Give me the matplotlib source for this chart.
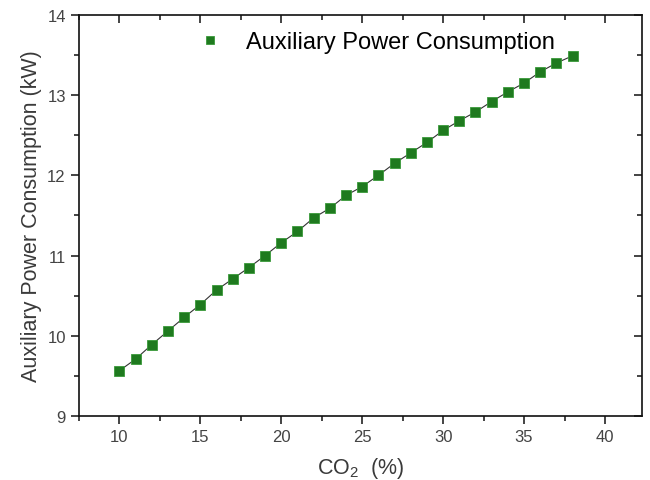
import matplotlib
matplotlib.use("Agg")
import matplotlib.pyplot as plt
from matplotlib.ticker import MultipleLocator

plt.rcParams['font.family'] = ['Liberation Sans', 'DejaVu Sans']
plt.rcParams['mathtext.fontset'] = 'custom'
plt.rcParams['mathtext.rm'] = 'Liberation Sans'

co2 = [10, 11, 12, 13, 14, 15, 16, 17, 18, 19, 20, 21, 22, 23, 24, 25, 26, 27, 28, 29,
       30, 31, 32, 33, 34, 35, 36, 37, 38]
power = [9.565, 9.71, 9.89, 10.06, 10.23, 10.39, 10.57, 10.71, 10.85, 11.00, 11.16, 11.30,
         11.47, 11.59, 11.75, 11.86, 12.00, 12.15, 12.28, 12.41, 12.56, 12.68, 12.79, 12.92,
         13.04, 13.15, 13.29, 13.40, 13.49]
series_label = "Auxiliary Power Consumption"

fig = plt.figure(figsize=(6.5, 4.81), dpi=100)
ax = fig.add_axes([0.1215, 0.133, 0.8665, 0.834])

ax.plot(co2, power, color='#333333', lw=0.8, marker='s', markersize=6.8,
        markerfacecolor='#1f7a1f', markeredgecolor='#3a9a3a', markeredgewidth=0.6,
        label=series_label)

ax.set_xlim(7.5, 42.3)
ax.set_ylim(9, 14)
ax.xaxis.set_major_locator(MultipleLocator(5))
ax.xaxis.set_minor_locator(MultipleLocator(2.5))
ax.yaxis.set_major_locator(MultipleLocator(1))
ax.yaxis.set_minor_locator(MultipleLocator(0.5))

for s in ax.spines.values():
    s.set_linewidth(1.2)
    s.set_color('#111111')

ax.tick_params(which='both', direction='out', top=True, right=True, width=1.1,
               labelsize=12, labelcolor='#444444', color='#111111')
ax.tick_params(which='major', length=6)
ax.tick_params(which='minor', length=3.5)
for t in ax.xaxis.get_major_ticks() + ax.xaxis.get_minor_ticks():
    t.tick2line.set_marker(3)
for t in ax.yaxis.get_major_ticks() + ax.yaxis.get_minor_ticks():
    t.tick2line.set_marker(0)

ax.set_xlabel(r'CO$_2$  (%)', fontsize=15.5, color='#3a3a3a', labelpad=8)
ax.set_ylabel('Auxiliary Power Consumption (kW)', fontsize=15.5, color='#3a3a3a', labelpad=4)

leg = ax.legend(loc='upper left', bbox_to_anchor=(0.17, 1.012), frameon=False,
                fontsize=17, handlelength=1.2, handletextpad=0.9, markerscale=0.85)
for h in leg.legend_handles:
    h.set_linestyle('None')

fig.savefig('out.png', dpi=100)
